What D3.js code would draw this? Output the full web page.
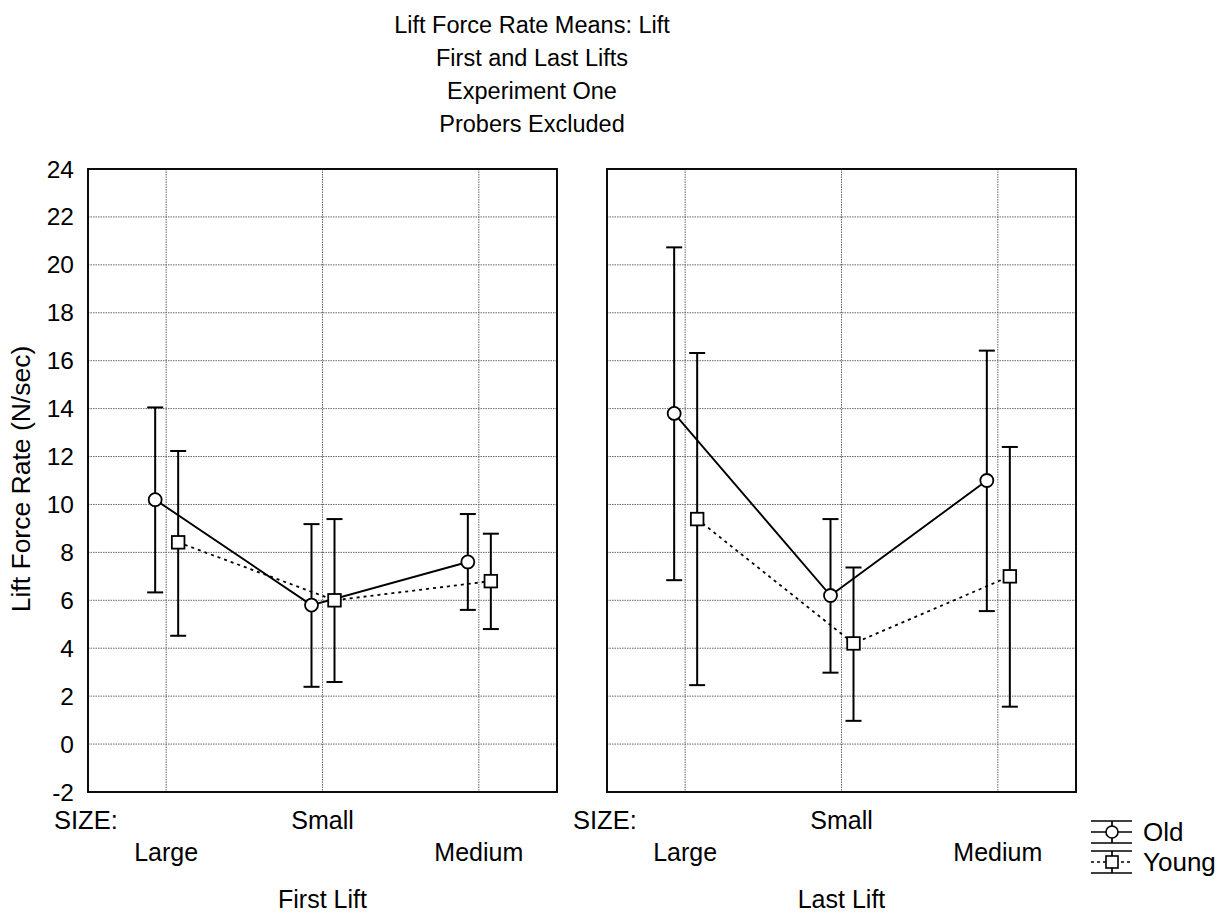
<!DOCTYPE html>
<html><head><meta charset="utf-8">
<script src="https://cdn.jsdelivr.net/npm/d3@7"></script>
<style>body{margin:0;background:#fff}svg{display:block}text{font-family:"Liberation Sans",Arial,sans-serif;fill:#000}</style>
</head><body><svg id="c" width="1225" height="920"></svg>
<script>
const titleLines = ["Lift Force Rate Means: Lift","First and Last Lifts","Experiment One","Probers Excluded"];
const sizes = ["Large","Small","Medium"];
const panels = ["First Lift","Last Lift"];
const yTicks = [-2,0,2,4,6,8,10,12,14,16,18,20,22,24];
// Old series: means, upper, lower per panel
const oldMean  = [[10.2, 5.8, 7.6],[13.8, 6.2, 11.0]];
const oldHigh  = [[14.05, 9.18, 9.6],[20.73, 9.39, 16.42]];
const oldLow   = [[6.33, 2.39, 5.6],[6.84, 2.98, 5.55]];
const youngMean= [[8.42, 6.0, 6.8],[9.39, 4.2, 7.0]];
const youngHigh= [[12.23, 9.39, 8.78],[16.32, 7.37, 12.4]];
const youngLow = [[4.52, 2.59, 4.8],[2.46, 0.97, 1.56]];
const seriesNames = ["Old","Young"];

(function(){
const svg = d3.select("#c");
const plotTop = 169, plotBottom = 792;
const panelX = [[88,557],[607,1076]];
const y = d3.scaleLinear().domain([-2,24]).range([plotBottom, plotTop]);
const FS = 24.5;

svg.append("g").selectAll("text").data(titleLines).join("text")
  .attr("x", 532).attr("y", (d,i)=>33 + i*33).attr("text-anchor","middle")
  .attr("font-size", 23.5).text(d=>d);

svg.append("text").attr("transform","translate(30,479) rotate(-90)")
  .attr("text-anchor","middle").attr("font-size",26.5).text("Lift Force Rate (N/sec)");

svg.append("g").selectAll("text").data(yTicks).join("text")
  .attr("x", 74).attr("y", d=>y(d)+8.5).attr("text-anchor","end")
  .attr("font-size",FS).text(d=>d);

const series = [
  {name:"Old", mean:oldMean, hi:oldHigh, lo:oldLow, off:-11, dash:null, shape:"circle"},
  {name:"Young", mean:youngMean, hi:youngHigh, lo:youngLow, off:12, dash:"3,4", shape:"square"}
];

panels.forEach((pname, p) => {
  const [x0, x1] = panelX[p];
  const xb = d3.scaleBand().domain(sizes).range([x0, x1]);
  const cx = s => xb(s) + xb.bandwidth()/2;
  const g = svg.append("g");
  g.selectAll(".hg").data(yTicks.filter(t=>t>-2 && t<24)).join("line")
    .attr("x1",x0).attr("x2",x1).attr("y1",d=>y(d)).attr("y2",d=>y(d))
    .attr("stroke","#666").attr("stroke-width",1).attr("stroke-dasharray","1.5,1");
  g.selectAll(".vg").data(sizes).join("line")
    .attr("x1",d=>cx(d)).attr("x2",d=>cx(d)).attr("y1",plotTop).attr("y2",plotBottom)
    .attr("stroke","#666").attr("stroke-width",1).attr("stroke-dasharray","1.5,1");
  g.append("rect").attr("x",x0).attr("y",plotTop).attr("width",x1-x0).attr("height",plotBottom-plotTop)
    .attr("fill","none").attr("stroke","#000").attr("stroke-width",1.9);

  series.forEach(se => {
    const pts = sizes.map((s,i)=>({x:cx(s)+se.off, m:se.mean[p][i], h:se.hi[p][i], l:se.lo[p][i]}));
    g.append("path").datum(pts)
      .attr("d", d3.line().x(d=>d.x).y(d=>y(d.m)))
      .attr("fill","none").attr("stroke","#000").attr("stroke-width", se.dash?1.8:1.9)
      .attr("stroke-dasharray", se.dash);
    pts.forEach(d=>{
      g.append("line").attr("x1",d.x).attr("x2",d.x).attr("y1",y(d.h)).attr("y2",y(d.l))
        .attr("stroke","#000").attr("stroke-width",2);
      [d.h,d.l].forEach(v=>{
        g.append("line").attr("x1",d.x-8).attr("x2",d.x+8).attr("y1",y(v)).attr("y2",y(v))
          .attr("stroke","#000").attr("stroke-width",2);
      });
      if (se.shape==="circle") {
        g.append("circle").attr("cx",d.x).attr("cy",y(d.m)).attr("r",6.5)
          .attr("fill","#fff").attr("stroke","#000").attr("stroke-width",1.8);
      } else {
        g.append("rect").attr("x",d.x-6.3).attr("y",y(d.m)-6.3).attr("width",12.6).attr("height",12.6)
          .attr("fill","#fff").attr("stroke","#000").attr("stroke-width",1.8);
      }
    });
  });

  g.append("text").attr("x",x0-34).attr("y",829).attr("font-size",25.5).text("SIZE:");
  g.selectAll(".xl").data(sizes).join("text")
    .attr("x",d=>cx(d)).attr("y",(d,i)=> i===1 ? 829 : 861)
    .attr("text-anchor","middle").attr("font-size",25).text(d=>d);
  g.append("text").attr("x",cx(sizes[1])).attr("y",908).attr("text-anchor","middle")
    .attr("font-size",25).text(pname);
});

const lg = svg.append("g");
seriesNames.forEach((n,i)=>{
  const cy = 832 + i*30;
  const x0 = 1091, x1 = 1132, xc = 1112;
  lg.append("line").attr("x1",x0).attr("x2",x1).attr("y1",cy-11).attr("y2",cy-11).attr("stroke","#000").attr("stroke-width",1.7);
  lg.append("line").attr("x1",x0).attr("x2",x1).attr("y1",cy+11).attr("y2",cy+11).attr("stroke","#000").attr("stroke-width",1.7);
  lg.append("line").attr("x1",xc).attr("x2",xc).attr("y1",cy-11).attr("y2",cy+11).attr("stroke","#000").attr("stroke-width",1.7);
  lg.append("line").attr("x1",x0).attr("x2",x1).attr("y1",cy).attr("y2",cy).attr("stroke","#000")
    .attr("stroke-width",1.5).attr("stroke-dasharray", i===1?"3,3":null);
  if (i===0) lg.append("circle").attr("cx",xc).attr("cy",cy).attr("r",6).attr("fill","#fff").attr("stroke","#000").attr("stroke-width",1.6);
  else lg.append("rect").attr("x",xc-6).attr("y",cy-6).attr("width",12).attr("height",12).attr("fill","#fff").attr("stroke","#000").attr("stroke-width",1.6);
  lg.append("text").attr("x",1143).attr("y",cy+9).attr("font-size",26).text(n);
});
})();
</script></body></html>
